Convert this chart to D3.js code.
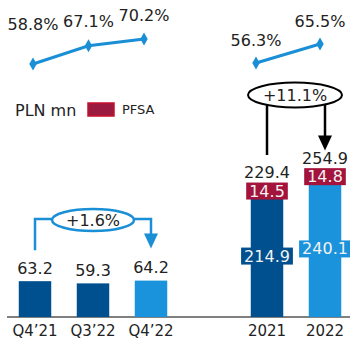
<!DOCTYPE html>
<html>
<head>
<meta charset="utf-8">
<script src="https://cdn.jsdelivr.net/npm/d3@7/dist/d3.min.js"></script>
<style>
  html, body { margin: 0; padding: 0; background: #fff; }
  svg { display: block; font-family: "DejaVu Sans", Verdana, sans-serif; }
</style>
</head>
<body>
<svg id="chart" width="350" height="340"></svg>
<script>
// Quarterly and annual totals, PLN mn
const quarters = ["Q4’21", "Q3’22", "Q4’22"];
const quarterTotals = [63.2, 59.3, 64.2];

const years = ["2021", "2022"];
const yearCore = [214.9, 240.1];
const yearPfsa = [14.5, 14.8];
const yearTotals = [229.4, 254.9];

// Ratios shown on the lines above the bars (%)
const quarterRatio = [58.8, 67.1, 70.2];
const yearRatio = [56.3, 65.5];

// Growth annotations
const quarterGrowth = "+1.6%";
const yearGrowth = "+11.1%";

const legendUnit = "PLN mn";
const legendPfsa = "PFSA";

const C = {
  dark: "#00508f",
  light: "#1a92dc",
  line: "#1a8fd6",
  red: "#a3133b",
  redEdge: "#c8102e",
  text: "#222",
  axis: "#808080"
};

const svg = d3.select("#chart");

const slots = [...quarters, "gap", ...years];
const x = d3.scaleBand().domain(slots).range([6, 354])
  .paddingInner(0.44).paddingOuter(0.22);
const y = d3.scaleLinear().domain([0, 300]).range([317, 317 - 300 * 0.567]);
const cx = k => x(k) + x.bandwidth() / 2;

// Axis along the baseline
const axis = d3.axisBottom(x).tickSize(0).tickValues(slots.filter(s => s !== "gap"));
const ax = svg.append("g").attr("transform", `translate(0,${y(0)})`).call(axis);
ax.select(".domain").attr("stroke", C.axis).attr("stroke-width", 2)
  .attr("d", "M7,0H350");
ax.selectAll("text").attr("y", 14).attr("dy", "0.35em")
  .attr("font-size", 15).attr("fill", C.text)
  .attr("font-family", "DejaVu Sans, Verdana, sans-serif");

// Quarterly bars
const qColors = [C.dark, C.dark, C.light];
svg.append("g").selectAll("rect").data(quarters).join("rect")
  .attr("x", d => x(d)).attr("width", x.bandwidth())
  .attr("y", (d, i) => y(quarterTotals[i]))
  .attr("height", (d, i) => y(0) - y(quarterTotals[i]))
  .attr("fill", (d, i) => qColors[i]);

svg.append("g").selectAll("text").data(quarters).join("text")
  .attr("x", d => cx(d)).attr("y", (d, i) => y(quarterTotals[i]) - 13)
  .attr("text-anchor", "middle").attr("dominant-baseline", "central")
  .attr("font-size", 16).attr("fill", C.text)
  .text((d, i) => quarterTotals[i].toFixed(1));

// Annual stacked bars
const yColors = [C.dark, C.light];
const yg = svg.append("g");
years.forEach((yr, i) => {
  yg.append("rect").attr("x", x(yr)).attr("width", x.bandwidth())
    .attr("y", y(yearCore[i])).attr("height", y(0) - y(yearCore[i]))
    .attr("fill", yColors[i]);
  yg.append("rect").attr("x", x(yr)).attr("width", x.bandwidth())
    .attr("y", y(yearCore[i] + yearPfsa[i])).attr("height", y(yearCore[i]) - y(yearCore[i] + yearPfsa[i]))
    .attr("fill", C.red);

  // labelled boxes for each segment
  const boxes = [
    { v: yearCore[i], mid: yearCore[i] / 2, fill: yColors[i] },
    { v: yearPfsa[i], mid: yearCore[i] + yearPfsa[i] / 2, fill: C.red }
  ];
  boxes.forEach(b => {
    const t = yg.append("text").attr("x", cx(yr)).attr("y", y(b.mid))
      .attr("text-anchor", "middle").attr("dominant-baseline", "central")
      .attr("font-size", 16).attr("fill", "#f2f2f2").text(b.v.toFixed(1));
    const bb = t.node().getBBox();
    yg.insert("rect", () => t.node())
      .attr("x", bb.x - 3).attr("y", y(b.mid) - 8.5)
      .attr("width", bb.width + 6).attr("height", 17).attr("fill", b.fill);
  });

  yg.append("text").attr("x", cx(yr)).attr("y", y(yearTotals[i]) - 14)
    .attr("text-anchor", "middle").attr("dominant-baseline", "central")
    .attr("font-size", 16).attr("fill", C.text).text(yearTotals[i].toFixed(1));
});

// Ratio lines
const xl = d3.scalePoint().domain(quarters).range([33, 144]);
const yl = d3.scaleLinear().domain([58.8, 70.2]).range([64, 39]);
const xr = d3.scalePoint().domain(years).range([256, 320]);
const yr = d3.scaleLinear().domain([56.3, 65.5]).range([63, 44]);
const diamond = d3.symbol().type(d3.symbolDiamond).size(48);

function ratioLine(keys, vals, sx, sy, lifts) {
  const g = svg.append("g");
  g.append("path")
    .attr("d", d3.line().x((d, i) => sx(keys[i])).y(d => sy(d))(vals))
    .attr("fill", "none").attr("stroke", C.line).attr("stroke-width", 3);
  g.selectAll("path.m").data(vals).join("path").attr("class", "m")
    .attr("d", diamond)
    .attr("transform", (d, i) => `translate(${sx(keys[i])},${sy(d)})`)
    .attr("fill", C.line);
  g.selectAll("text").data(vals).join("text")
    .attr("x", (d, i) => sx(keys[i])).attr("y", (d, i) => sy(d) - lifts[i])
    .attr("text-anchor", "middle").attr("dominant-baseline", "central")
    .attr("font-size", 16).attr("fill", C.text)
    .text(d => d.toFixed(1) + "%");
}
ratioLine(quarters, quarterRatio, xl, yl, [40, 24, 24]);
ratioLine(years, yearRatio, xr, yr, [23, 23]);

// Legend
const lg = svg.append("g");
lg.append("text").attr("x", 15).attr("y", 110).attr("dominant-baseline", "central")
  .attr("font-size", 16).attr("fill", C.text).text(legendUnit);
lg.append("rect").attr("x", 88).attr("y", 103).attr("width", 26).attr("height", 13)
  .attr("fill", "#9b1a40").attr("stroke", C.redEdge).attr("stroke-width", 1.5);
lg.append("text").attr("x", 122).attr("y", 109.5).attr("dominant-baseline", "central")
  .attr("font-size", 13).attr("fill", C.text).text(legendPfsa);

// Growth bracket: quarters
function arrowHead(g, xTip, yTip, color) {
  g.append("path")
    .attr("d", `M${xTip - 7},${yTip - 15}L${xTip + 7},${yTip - 15}L${xTip},${yTip}Z`)
    .attr("fill", color);
}
{
  const g = svg.append("g");
  const x0 = cx(quarters[0]), x1 = cx(quarters[2]);
  const top = 219, mid = (x0 + x1) / 2;
  const tip = y(quarterTotals[2]) - 32;
  g.append("path")
    .attr("d", `M${x0},${y(quarterTotals[0]) - 31}V${top}H${x1}V${tip - 12}`)
    .attr("fill", "none").attr("stroke", C.line).attr("stroke-width", 2.5);
  arrowHead(g, x1, tip, C.line);
  g.append("ellipse").attr("cx", mid).attr("cy", 220).attr("rx", 41).attr("ry", 11)
    .attr("fill", "#fff").attr("stroke", C.line).attr("stroke-width", 2.5);
  g.append("text").attr("x", mid).attr("y", 220).attr("text-anchor", "middle")
    .attr("dominant-baseline", "central").attr("font-size", 16).attr("fill", C.text)
    .text(quarterGrowth);
}

// Growth bracket: years
{
  const g = svg.append("g");
  const x0 = 267, x1 = 325, mid = 295;
  const tip = y(yearTotals[1]) - 22;
  g.append("path")
    .attr("d", `M${x0},${y(yearTotals[0]) - 32}V95M${x1},95V${tip - 12}`)
    .attr("fill", "none").attr("stroke", "#000").attr("stroke-width", 2.5);
  arrowHead(g, x1, tip, "#000");
  g.append("ellipse").attr("cx", mid).attr("cy", 95).attr("rx", 47).attr("ry", 12.5)
    .attr("fill", "#fff").attr("stroke", "#000").attr("stroke-width", 2);
  g.append("text").attr("x", mid).attr("y", 95).attr("text-anchor", "middle")
    .attr("dominant-baseline", "central").attr("font-size", 16).attr("fill", C.text)
    .text(yearGrowth);
}
</script>
</body>
</html>
